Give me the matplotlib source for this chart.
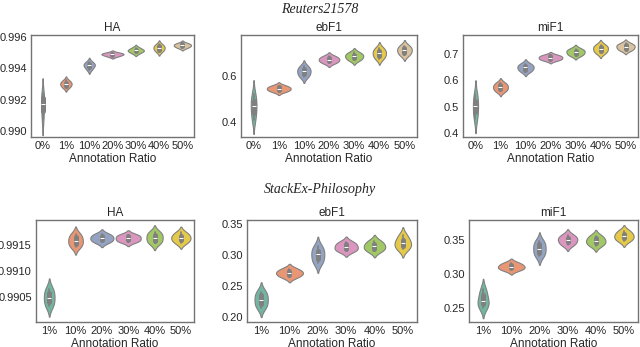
import matplotlib
matplotlib.use("Agg")
import matplotlib.pyplot as plt
import numpy as np
import pandas as pd
import seaborn as sns

# ratios
reu_ratios = ["0%", "1%", "10%", "20%", "30%", "40%", "50%"]
phi_ratios = ["1%", "10%", "20%", "30%", "40%", "50%"]

# Reuters21578, five runs per ratio
reu_ha = [
    [0.9907, 0.9913, 0.9917, 0.9921, 0.9924],
    [0.99277, 0.99290, 0.99301, 0.99309, 0.99323],
    [0.99392, 0.99410, 0.99420, 0.99428, 0.99441],
    [0.99476, 0.99485, 0.99490, 0.99494, 0.99501],
    [0.99497, 0.99508, 0.99515, 0.99519, 0.99532],
    [0.99507, 0.99520, 0.99531, 0.99540, 0.99553],
    [0.99531, 0.99540, 0.99547, 0.99553, 0.99561],
]
reu_ebf1 = [
    [0.41, 0.44, 0.47, 0.49, 0.52],
    [0.532, 0.539, 0.545, 0.551, 0.558],
    [0.596, 0.608, 0.620, 0.630, 0.642],
    [0.656, 0.664, 0.671, 0.678, 0.686],
    [0.668, 0.677, 0.686, 0.693, 0.702],
    [0.675, 0.687, 0.699, 0.709, 0.721],
    [0.690, 0.701, 0.712, 0.721, 0.732],
]
reu_mif1 = [
    [0.453, 0.478, 0.501, 0.523, 0.547],
    [0.558, 0.566, 0.574, 0.582, 0.590],
    [0.633, 0.641, 0.649, 0.655, 0.663],
    [0.676, 0.681, 0.686, 0.691, 0.696],
    [0.694, 0.700, 0.708, 0.713, 0.720],
    [0.703, 0.711, 0.720, 0.727, 0.735],
    [0.714, 0.720, 0.728, 0.733, 0.740],
]

# StackEx-Philosophy
phi_ha = [
    [0.99032, 0.99040, 0.99049, 0.99058, 0.99066],
    [0.99146, 0.99152, 0.99158, 0.99165, 0.99171],
    [0.99155, 0.99159, 0.99163, 0.99167, 0.99171],
    [0.99156, 0.99159, 0.99163, 0.99167, 0.99170],
    [0.99153, 0.99158, 0.99164, 0.99170, 0.99175],
    [0.99154, 0.99159, 0.99164, 0.99168, 0.99174],
]
phi_ebf1 = [
    [0.215, 0.221, 0.228, 0.235, 0.241],
    [0.264, 0.268, 0.271, 0.274, 0.278],
    [0.287, 0.293, 0.301, 0.307, 0.314],
    [0.306, 0.309, 0.313, 0.317, 0.321],
    [0.306, 0.310, 0.314, 0.318, 0.323],
    [0.309, 0.314, 0.319, 0.324, 0.332],
]
phi_mif1 = [
    [0.250, 0.255, 0.260, 0.268, 0.277],
    [0.305, 0.308, 0.310, 0.313, 0.316],
    [0.326, 0.331, 0.337, 0.343, 0.348],
    [0.342, 0.346, 0.350, 0.353, 0.357],
    [0.341, 0.345, 0.348, 0.352, 0.356],
    [0.348, 0.352, 0.355, 0.359, 0.363],
]

sns.set_style("white")
plt.rcParams["font.family"] = ["Liberation Sans", "DejaVu Sans"]
plt.rcParams["axes.edgecolor"] = "0.45"
plt.rcParams["text.color"] = "0.15"
plt.rcParams["xtick.color"] = "0.15"
plt.rcParams["ytick.color"] = "0.15"


def to_frame(ratios, runs):
    rows = []
    for r, vals in zip(ratios, runs):
        for v in vals:
            rows.append({"ratio": r, "score": v})
    return pd.DataFrame(rows)


def draw(ax, ratios, runs, title, ylim, yticks, fmt):
    df = to_frame(ratios, runs)
    sns.violinplot(data=df, x="ratio", y="score", hue="ratio", order=ratios,
                   palette="Set2", legend=False, ax=ax, linewidth=0.8,
                   linecolor="0.5", width=0.95, common_norm=True)
    ax.set_title(title, fontsize=8.5, pad=3)
    ax.set_xlabel("Annotation Ratio", fontsize=8.5, labelpad=1)
    ax.set_ylabel("")
    ax.set_ylim(ylim)
    ax.set_yticks(yticks)
    ax.set_yticklabels([fmt % t for t in yticks])
    ax.tick_params(axis="both", labelsize=8, length=0, pad=3)
    for s in ax.spines.values():
        s.set_linewidth(1.0)


fig = plt.figure(figsize=(6.4, 3.47), dpi=100)

top_b, h = 0.6052, 0.294
bot_b = 0.0720
ax1 = fig.add_axes([0.0484, top_b, 0.2547, h])
ax2 = fig.add_axes([0.3766, top_b, 0.2750, h])
ax3 = fig.add_axes([0.7234, top_b, 0.2735, h])
ax4 = fig.add_axes([0.0563, bot_b, 0.2469, h])
ax5 = fig.add_axes([0.3859, bot_b, 0.2656, h])
ax6 = fig.add_axes([0.7328, bot_b, 0.2641, h])

draw(ax1, reu_ratios, reu_ha, "HA", (0.98962, 0.99613),
     [0.990, 0.992, 0.994, 0.996], "%.3f")
draw(ax2, reu_ratios, reu_ebf1, "ebF1", (0.335, 0.778), [0.4, 0.6], "%.1f")
draw(ax3, reu_ratios, reu_mif1, "miF1", (0.385, 0.772),
     [0.4, 0.5, 0.6, 0.7], "%.1f")
draw(ax4, phi_ratios, phi_ha, "HA", (0.99002, 0.99198),
     [0.9905, 0.9910, 0.9915], "%.4f")
draw(ax5, phi_ratios, phi_ebf1, "ebF1", (0.192, 0.3565),
     [0.20, 0.25, 0.30, 0.35], "%.2f")
draw(ax6, phi_ratios, phi_mif1, "miF1", (0.229, 0.379),
     [0.25, 0.30, 0.35], "%.2f")

fig.text(0.5, 0.992, "Reuters21578", ha="center", va="top", fontsize=10,
         style="italic", family=["Liberation Serif", "DejaVu Serif"])
fig.text(0.5, 0.474, "StackEx-Philosophy", ha="center", va="top", fontsize=10,
         style="italic", family=["Liberation Serif", "DejaVu Serif"])

fig.savefig("out.png", dpi=100)
